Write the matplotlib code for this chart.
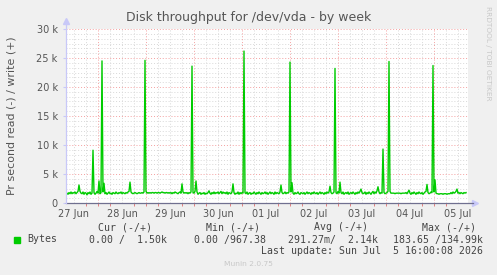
import matplotlib
matplotlib.use("Agg")
import matplotlib.pyplot as plt
import numpy as np

# Munin "disk throughput by week" for /dev/vda
# half-hourly samples (in thousands of bytes/s), Jun 27 08:00 -> Jul 5 16:00
start_hour = 8.0
step_hours = 0.5

jun27 = [1.6, 1.7, 1.5, 1.8, 1.6, 1.9, 1.6, 1.8, 1.7, 1.9, 1.6, 1.8, 2.0, 3.1, 2.0, 1.7,
         1.6, 1.9, 1.5, 1.8, 1.7, 1.4, 1.8, 1.6, 1.9, 1.5, 1.7, 9.1, 1.8, 1.5, 1.7, 2.0]
jun28 = [1.7, 3.8, 1.6, 1.8, 24.5, 1.9, 3.4, 1.6, 1.8, 1.5, 1.7, 1.9, 1.6, 1.7, 1.5, 1.8,
         1.7, 1.6, 1.9, 1.7, 1.6, 1.8, 1.7, 1.9, 1.6, 1.8, 1.7, 1.6, 1.8, 1.7, 1.9, 2.0,
         3.6, 1.9, 1.7, 1.6, 1.7, 1.8, 1.7, 1.6, 1.7, 1.8, 1.7, 1.7, 1.8, 1.7, 1.9, 24.6]
jun29 = [2.0, 1.7, 1.8, 1.7, 1.8, 1.7, 1.8, 1.8, 1.7, 1.8, 1.8, 1.7, 1.8, 1.8, 1.7, 1.8,
         1.9, 1.8, 1.8, 1.7, 1.8, 1.8, 1.7, 1.8, 1.7, 1.8, 1.6, 1.8, 1.7, 1.9, 1.8, 1.7,
         1.6, 1.8, 1.9, 1.7, 3.3, 1.9, 1.7, 1.8, 1.7, 1.8, 1.6, 1.8, 1.7, 1.9, 23.6, 1.8]
jun30 = [1.7, 2.0, 3.8, 1.9, 1.5, 1.7, 1.8, 1.5, 1.7, 1.6, 1.8, 1.5, 1.7, 1.6, 1.8, 2.1,
         1.7, 1.5, 1.8, 1.6, 1.9, 1.6, 1.8, 1.7, 1.9, 1.6, 1.8, 2.0, 1.6, 1.9, 1.7, 1.8,
         1.6, 1.9, 1.5, 1.8, 1.7, 1.6, 1.9, 3.3, 1.8, 1.5, 1.7, 1.6, 1.9, 1.5, 1.8, 1.6]
jul01 = [1.8, 1.7, 26.2, 1.8, 1.6, 1.9, 1.5, 1.7, 1.8, 1.5, 1.7, 1.6, 1.9, 1.7, 1.5, 1.8,
         1.6, 1.9, 1.7, 1.5, 1.8, 1.6, 1.7, 1.9, 1.6, 1.8, 1.5, 1.7, 1.9, 1.6, 1.8, 1.7,
         1.5, 1.9, 1.6, 1.8, 1.7, 1.6, 1.9, 3.1, 1.8, 1.6, 1.7, 1.9, 1.6, 1.8, 1.7, 1.9]
jul02 = [24.3, 1.9, 3.5, 1.7, 1.5, 1.8, 1.6, 1.7, 1.9, 1.6, 1.5, 1.8, 1.7, 1.6, 1.8, 1.5,
         1.7, 1.9, 1.6, 1.8, 1.7, 1.5, 1.8, 1.6, 1.9, 1.7, 1.6, 1.8, 1.5, 1.7, 1.9, 1.6,
         1.8, 1.7, 1.5, 1.8, 1.6, 1.9, 1.7, 1.9, 2.9, 1.8, 1.6, 1.7, 1.9, 23.2, 1.8, 1.6]
jul03 = [2.0, 1.7, 3.6, 1.8, 1.6, 1.9, 1.5, 1.7, 1.8, 1.6, 1.9, 1.5, 1.7, 1.8, 1.6, 1.9,
         1.7, 1.5, 1.8, 1.6, 1.9, 1.7, 2.0, 2.4, 1.8, 1.6, 1.7, 1.9, 1.5, 1.8, 1.6, 1.9,
         1.7, 1.5, 1.8, 2.0, 1.6, 1.9, 1.7, 2.1, 2.8, 1.9, 1.6, 1.8, 1.7, 9.3, 1.8, 1.6]
jul04 = [1.7, 1.8, 2.0, 24.4, 2.0, 1.7, 1.7, 1.7, 1.7, 1.6, 1.7, 1.7, 1.7, 1.7, 1.7, 1.6,
         1.7, 1.7, 1.7, 1.7, 1.8, 1.6, 1.9, 2.2, 1.7, 1.5, 1.8, 1.6, 1.9, 1.7, 1.5, 1.8,
         1.6, 1.9, 1.7, 1.6, 1.8, 1.5, 1.7, 1.9, 2.0, 3.2, 1.8, 1.6, 1.7, 1.9, 1.8, 23.7]
jul05 = [1.9, 4.0, 1.7, 1.6, 1.6, 1.5, 1.6, 1.6, 1.6, 1.5, 1.6, 1.6, 1.6, 1.5, 1.6, 1.6,
         1.6, 1.8, 1.6, 1.9, 1.7, 1.8, 2.0, 2.4, 1.7, 1.8, 1.6, 1.8, 1.7, 1.6, 1.8, 1.7, 1.8]

day_labels = ["27 Jun", "28 Jun", "29 Jun", "30 Jun", "01 Jul", "02 Jul", "03 Jul", "04 Jul", "05 Jul"]
ytick_values = [0, 5000, 10000, 15000, 20000, 25000, 30000]
ytick_labels = ["0", "5 k", "10 k", "15 k", "20 k", "25 k", "30 k"]

legend_headers = ["Cur (-/+)", "Min (-/+)", "Avg (-/+)", "Max (-/+)"]
legend_values = ["0.00 /  1.50k", "0.00 /967.38", "291.27m/  2.14k", "183.65 /134.99k"]
last_update = "Last update: Sun Jul  5 16:00:08 2026"

values = np.array(jun27 + jun28 + jun29 + jun30 + jul01 + jul02 + jul03 + jul04 + jul05) * 1000
hours = start_hour + step_hours * np.arange(len(values))

W, H = 497, 275
fig = plt.figure(figsize=(W / 100, H / 100), dpi=100)
fig.patch.set_facecolor("#F0F0F0")

# plot area: x 66..468, y 29..203 (pixels)
ax = fig.add_axes([66 / W, 1 - 203 / H, 402 / W, 174 / H])
ax.set_facecolor("white")
ax.set_xlim(8, 209)
ax.set_ylim(0, 30000)
for s in ax.spines.values():
    s.set_visible(False)

# grid: minor gray every 6h / 5k/6, major red every day / 5k
for h in np.arange(12, 209, 6):
    if h % 24:
        ax.axvline(h, color="#D8D8D8", lw=0.7, ls=(0, (1, 2)), zorder=0)
for h in np.arange(24, 209, 24):
    ax.axvline(h, color="#F4A0A0", lw=0.7, ls=(0, (1, 2)), zorder=0.5)
for v in np.arange(0, 30001, 5000 / 6):
    if round(v) % 5000:
        ax.axhline(v, color="#D8D8D8", lw=0.7, ls=(0, (1, 2)), zorder=0)
for v in ytick_values[1:]:
    ax.axhline(v, color="#F4A0A0", lw=0.7, ls=(0, (1, 2)), zorder=0.5)

ax.plot(hours, values, color="#00CC00", lw=1.0, zorder=3)

# axes lines with arrows
ax.plot([0, 1.012], [0, 0], transform=ax.transAxes, color="#707090", lw=0.9,
        clip_on=False, zorder=4)
ax.plot([0, 0], [0, 1.04], transform=ax.transAxes, color="#C8C8F8", lw=0.9,
        clip_on=False, zorder=4)
ax.plot(1.018, 0, marker=">", ms=5, color="#C8C8F8", transform=ax.transAxes, clip_on=False)
ax.plot(0, 1.045, marker="^", ms=5, color="#C8C8F8", transform=ax.transAxes, clip_on=False)

noon = [12 + 24 * i for i in range(len(day_labels))]
ax.set_xticks(noon, day_labels)
ax.set_xticks(np.arange(12, 209, 6), minor=True)
ax.tick_params(axis="x", which="major", length=0, pad=4, labelsize=7, labelcolor="#555555")
ax.tick_params(axis="x", which="minor", length=2, color="#E08080", width=0.7)
ax.set_yticks(ytick_values, ytick_labels)
ax.tick_params(axis="y", length=2, color="#C8C8F8", pad=4, labelsize=7, labelcolor="#555555")

fig.text(249 / W, 1 - 17 / H, "Disk throughput for /dev/vda - by week", ha="center",
         va="center", fontsize=9, color="#555555")
fig.text(12 / W, 1 - 116 / H, "Pr second read (-) / write (+)", rotation=90, ha="center",
         va="center", fontsize=7.9, color="#555555")
fig.text(488 / W, 1 - 53 / H, "RRDTOOL / TOBI OETIKER", rotation=270, ha="center",
         va="center", fontsize=5.3, color="#C8C8C8")

mono = dict(family="DejaVu Sans Mono", fontsize=7.1, color="#444444", va="center")
header_right = [152, 260, 368, 476]
value_right = [167, 266, 378, 483]
for txt, xr in zip(legend_headers, header_right):
    fig.text(xr / W, 1 - 227.5 / H, txt, ha="right", **mono)
for txt, xr in zip(legend_values, value_right):
    fig.text(xr / W, 1 - 239.5 / H, txt, ha="right", **mono)
fig.text(27 / W, 1 - 239.5 / H, "Bytes", ha="left", **mono)
fig.text(483 / W, 1 - 251.5 / H, last_update, ha="right", **mono)
fig.patches.append(plt.Rectangle((14 / W, 1 - 242.5 / H), 6 / W, 6 / H,
                                 transform=fig.transFigure, color="#00CC00"))
fig.text(248 / W, 1 - 264 / H, "Munin 2.0.75", ha="center", va="center",
         fontsize=5.4, color="#C8C8C8")

fig.savefig("out.png", dpi=100, facecolor=fig.get_facecolor())
